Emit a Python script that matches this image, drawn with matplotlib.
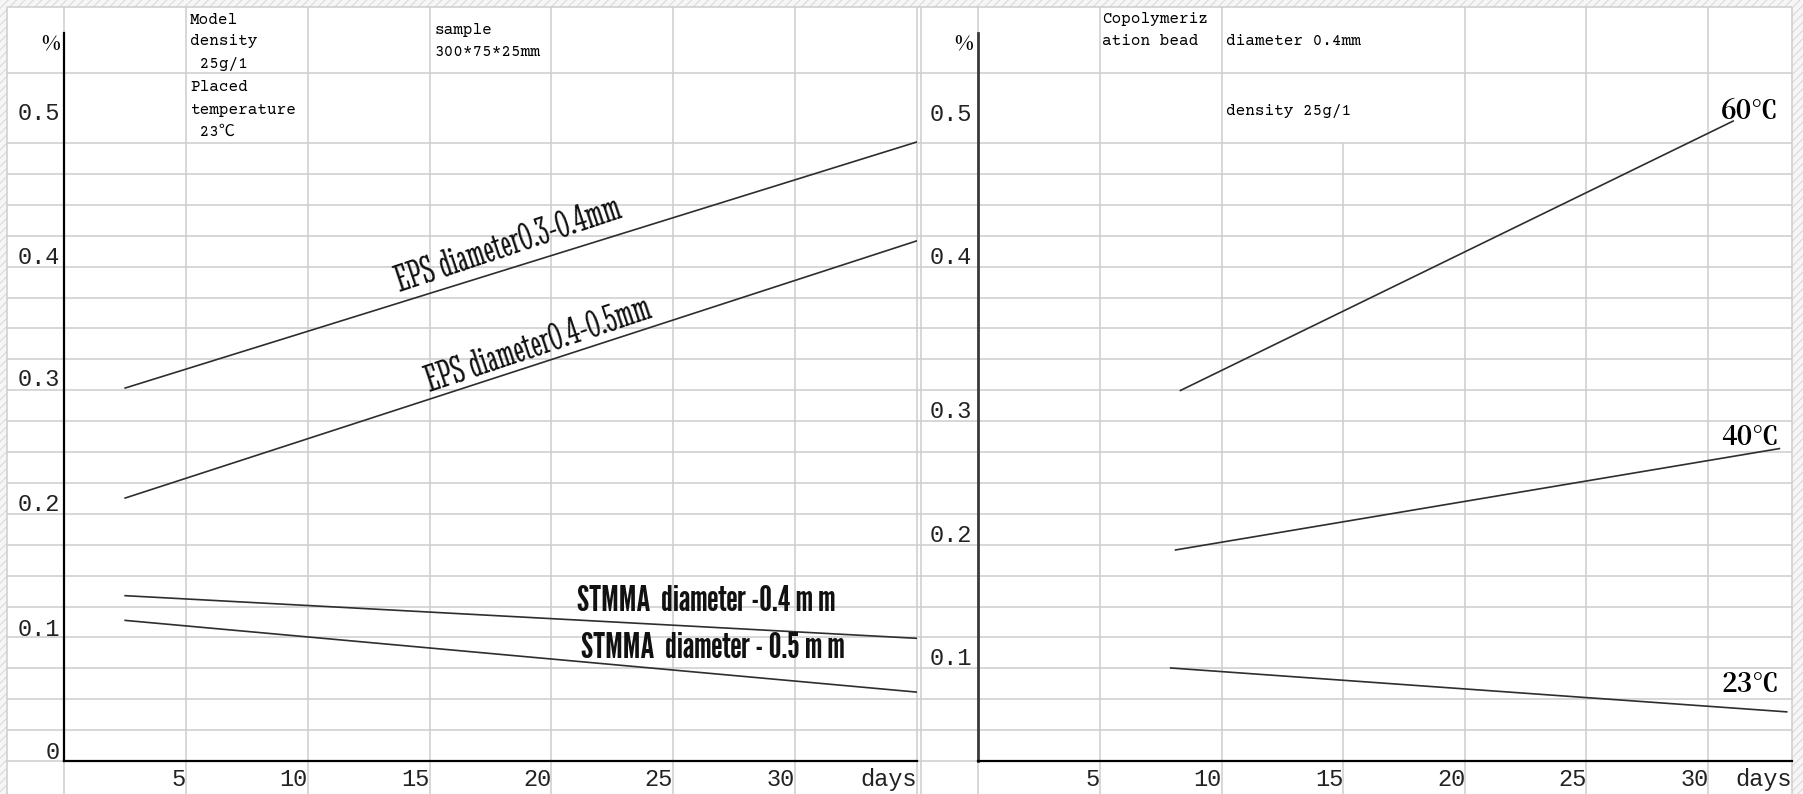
import matplotlib
matplotlib.use("Agg")
import matplotlib.pyplot as plt
from matplotlib.patches import Rectangle

# ---------------- data ----------------
# left chart: moisture absorption (%) vs days, 23 C
left_days = [2.5, 35.0]
eps_03_04 = [0.302, 0.501]
eps_04_05 = [0.213, 0.421]
stmma_04 = [0.134, 0.0995]
stmma_05 = [0.114, 0.056]

# right chart: copolymerization bead, 0.4 mm, 25 g/l
c60_days = [8.3, 31.0]
c60_vals = [0.325, 0.543]
c40_days = [8.1, 32.9]
c40_vals = [0.196, 0.278]
c23_days = [7.9, 33.2]
c23_vals = [0.1005, 0.065]

x_tick_vals = [5, 10, 15, 20, 25, 30]
x_tick_labels = ['5', '10', '15', '20', '25', '30']
y_tick_labels = ['0', '0.1', '0.2', '0.3', '0.4', '0.5']
left_ytick_pos = [0.009, 0.109, 0.210, 0.311, 0.410, 0.526]
right_y_tick_labels = ['0.1', '0.2', '0.3', '0.4', '0.5']
right_ytick_pos = [0.110, 0.2095, 0.310, 0.4346, 0.5506]

# ---------------- fonts ----------------
TICK_FONT = ['Liberation Mono', 'DejaVu Sans Mono']
NOTE_FONT = ['Courier Prime', 'Liberation Mono', 'DejaVu Sans Mono', 'Noto Sans CJK SC']
EPS_FONT = ['Stint Ultra Condensed', 'Liberation Sans', 'DejaVu Sans']
STM_FONT = ['League Gothic', 'Liberation Sans', 'DejaVu Sans']
DEG_FONT = ['Noto Serif CJK SC', 'DejaVu Serif']

W, H = 1803, 794
fig = plt.figure(figsize=(W / 100, H / 100), dpi=100)
fig.patch.set_facecolor('#f6f6f6')

# ---------------- spreadsheet background (pixel coordinates) ----------------
plt.rcParams['hatch.color'] = '#dadada'
plt.rcParams['hatch.linewidth'] = 0.8
bg = fig.add_axes([0, 0, 1, 1], zorder=0)
bg.set_xlim(0, W)
bg.set_ylim(H, 0)
bg.axis('off')
bg.add_patch(Rectangle((0, 0), W, H, facecolor='#f6f6f6', edgecolor='#dadada', hatch='////', lw=0))
sheet_l, sheet_t, sheet_r = 7.3, 7.3, 1791.7
bg.add_patch(Rectangle((sheet_l, sheet_t), sheet_r - sheet_l, H - sheet_t, facecolor='white', lw=0))

row_lines = [7.3, 73.3] + [143.0 + 30.9 * k for k in range(21)]
col_lines = [7.3] + [64.3 + 121.76 * k for k in range(8)] + [920.7] + \
            [978.3 + 121.6 * k for k in range(7)] + [1791.7]
gcol = '#cdcdcd'
for y in row_lines:
    bg.plot([sheet_l, sheet_r], [y, y], color=gcol, lw=1.1, solid_capstyle='butt')
for x in col_lines:
    top = 143.0 if abs(x - 1343.1) < 1 else sheet_t
    bg.plot([x, x], [top, H], color=gcol, lw=1.1, solid_capstyle='butt')

# cell notes
def note(x, y, s, **kw):
    bg.text(x, y, s, fontsize=11.5, family=NOTE_FONT, va='center', ha='left', color='black', **kw)

note(190, 19.5, 'Model')
note(190, 41.4, 'density')
note(190, 64.4, ' 25g/1')
note(190, 87.4, 'Placed')
note(190, 110.4, 'temperature')
note(190, 132.0, ' 23℃')
note(435, 30.0, 'sample')
note(435, 51.7, '300*75*25mm')
note(1102, 19.5, 'Copolymeriz')
note(1102, 41.4, 'ation bead')
note(1226, 41.4, 'diameter 0.4mm')
note(1226, 111.5, 'density 25g/1')

bg.text(60, 44, '%', fontsize=14, family=DEG_FONT, fontweight='bold', ha='right', va='center')
bg.text(973, 44, '%', fontsize=14, family=DEG_FONT, fontweight='bold', ha='right', va='center')

# ---------------- data axes ----------------
px_day = 24.35
px_unit = 1236.0
axis_y = 761.3
axis_top = 33.0

def make_axes(x0, x1, y_bottom_val):
    xr = (x1 - x0) / px_day
    yr = (axis_y - axis_top) / px_unit
    ax = fig.add_axes([x0 / W, (H - axis_y) / H, (x1 - x0) / W, (axis_y - axis_top) / H], zorder=2)
    ax.set_facecolor('none')
    ax.set_xlim(0, xr)
    ax.set_ylim(y_bottom_val, y_bottom_val + yr)
    for s in ('top', 'right'):
        ax.spines[s].set_visible(False)
    ax.tick_params(length=0)
    return ax, xr

ax1, xr1 = make_axes(64.3, 916.6, 0.0)
ax2, xr2 = make_axes(978.3, 1791.7, 0.025)

for ax in (ax1, ax2):
    ax.spines['bottom'].set_linewidth(1.6)
    ax.spines['bottom'].set_color('black')
ax1.spines['left'].set_linewidth(1.6)
ax1.spines['left'].set_color('black')
ax2.spines['left'].set_linewidth(2.0)
ax2.spines['left'].set_color('#3a3a3a')

# ticks
ax1.set_yticks(left_ytick_pos, y_tick_labels)
ax2.set_yticks(right_ytick_pos, right_y_tick_labels)
ax1.set_xticks(x_tick_vals + [xr1], x_tick_labels + ['days'])
ax2.set_xticks(x_tick_vals + [xr2], x_tick_labels + ['days'])
for ax, ypad in ((ax1, 3.0), (ax2, 4.5)):
    ax.tick_params(axis='y', pad=ypad)
    ax.tick_params(axis='x', pad=5)
    for lbl in ax.get_xticklabels() + ax.get_yticklabels():
        lbl.set_family(TICK_FONT)
        lbl.set_fontsize(17)
        lbl.set_color('#222222')
    for lbl in ax.get_xticklabels():
        lbl.set_horizontalalignment('right')

# lines
lc = '#2e2e2e'
ax1.plot(left_days, eps_03_04, color=lc, lw=1.2)
ax1.plot(left_days, eps_04_05, color=lc, lw=1.2)
ax1.plot(left_days, stmma_04, color=lc, lw=1.2)
ax1.plot(left_days, stmma_05, color=lc, lw=1.2)
ax2.plot(c60_days, c60_vals, color=lc, lw=1.2)
ax2.plot(c40_days, c40_vals, color=lc, lw=1.2)
ax2.plot(c23_days, c23_vals, color=lc, lw=1.2)

# line labels
ax1.text(18.26, 0.418, 'EPS diameter0.3-0.4mm', rotation=18.5, rotation_mode='anchor',
         ha='center', va='center', fontsize=28, family=EPS_FONT, color='#111111')
ax1.text(19.46, 0.337, 'EPS diameter0.4-0.5mm', rotation=18.5, rotation_mode='anchor',
         ha='center', va='center', fontsize=28, family=EPS_FONT, color='#111111')
ax1.text(26.35, 0.129, 'STMMA  diameter -0.4 m m', ha='center', va='center',
         fontsize=26, family=STM_FONT, color='#111111')
ax1.text(26.64, 0.0912, 'STMMA  diameter - 0.5 m m', ha='center', va='center',
         fontsize=26, family=STM_FONT, color='#111111')

ax2.text(31.69, 0.551, '60℃', ha='center', va='center', fontsize=19, family=DEG_FONT, fontweight='bold')
ax2.text(31.69, 0.287, '40℃', ha='center', va='center', fontsize=19, family=DEG_FONT, fontweight='bold')
ax2.text(31.69, 0.087, '23℃', ha='center', va='center', fontsize=19, family=DEG_FONT, fontweight='bold')

fig.savefig('out.png', dpi=100, facecolor=fig.get_facecolor())
